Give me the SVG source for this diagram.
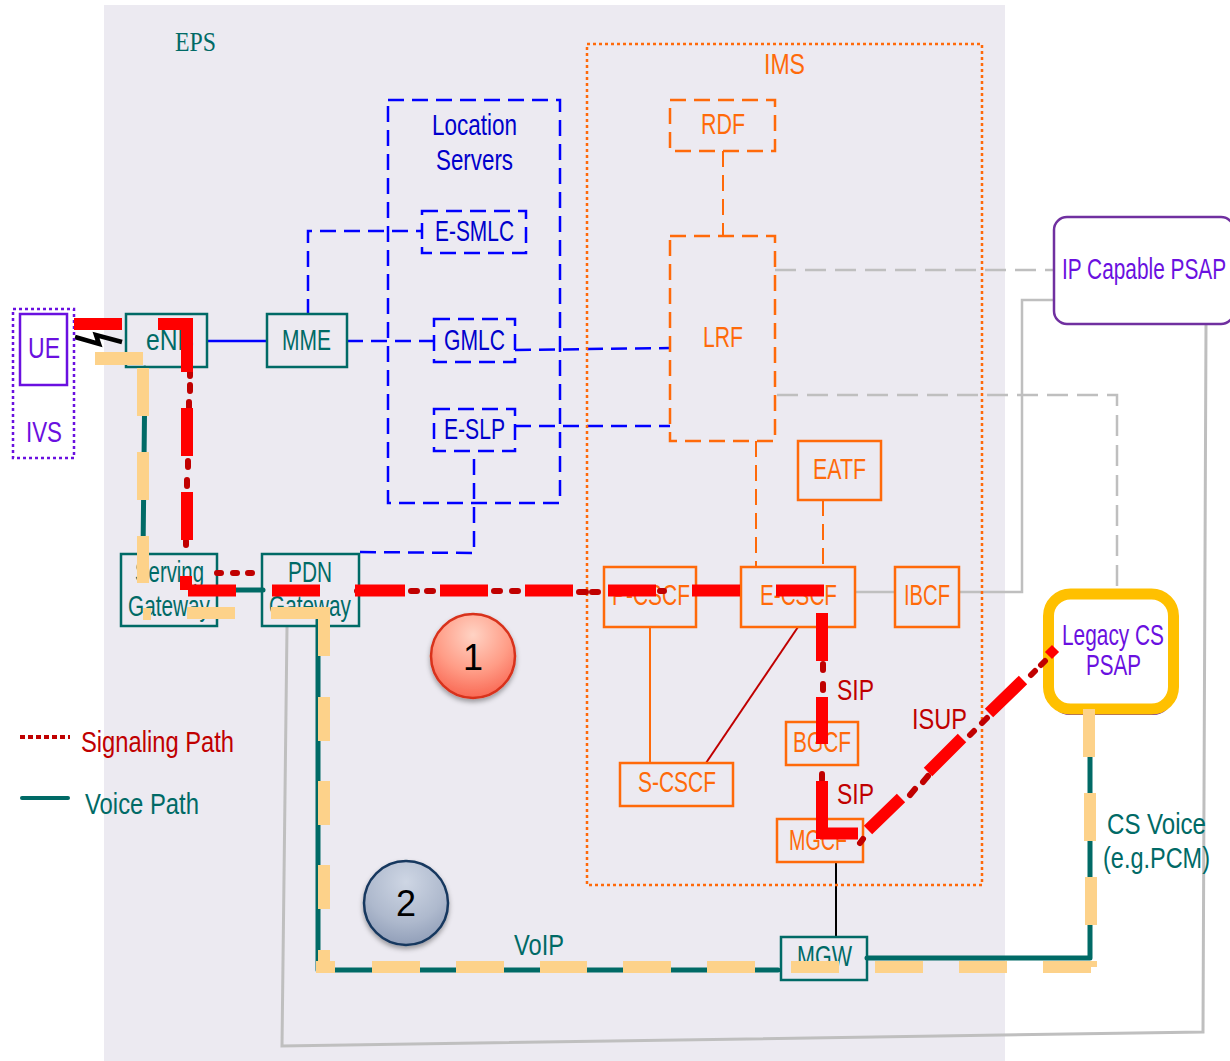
<svg xmlns="http://www.w3.org/2000/svg" width="1230" height="1061" viewBox="0 0 1230 1061">
<defs>
<radialGradient id="g1" cx="0.5" cy="0.25" r="0.8"><stop offset="0" stop-color="#ffd3c4"/><stop offset="0.55" stop-color="#ff9c86"/><stop offset="1" stop-color="#f8604c"/></radialGradient>
<radialGradient id="g2" cx="0.5" cy="0.25" r="0.8"><stop offset="0" stop-color="#ced6e4"/><stop offset="0.6" stop-color="#aeb9cd"/><stop offset="1" stop-color="#8c9ab5"/></radialGradient>
<filter id="sh" x="-20%" y="-20%" width="140%" height="150%"><feDropShadow dx="0" dy="3" stdDeviation="2.5" flood-color="#000" flood-opacity="0.35"/></filter>
</defs>
<style>
text{font-family:"Liberation Sans",Arial,sans-serif;font-size:29px;text-anchor:start}
.s{font-family:"Liberation Serif","Times New Roman",serif;font-size:27px}
.tt{fill:#006a66}.to{fill:#ff6a0a}.tb{fill:#0000cc}.tp{fill:#6a10e0}.tr{fill:#c00000}
.bt{fill:none;stroke:#006a66;stroke-width:2.5}
.bo{fill:none;stroke:#ff6a0a;stroke-width:2.5}
.bod{fill:none;stroke:#ff6a0a;stroke-width:2.5;stroke-dasharray:16 8}
.bb{fill:none;stroke:#0000ff;stroke-width:2.5;stroke-dasharray:16 8}
.lb{fill:none;stroke:#0000ff;stroke-width:2.5;stroke-dasharray:16 8}
.lo{fill:none;stroke:#ff6a0a;stroke-width:2;stroke-dasharray:16 8}
.gd{fill:none;stroke:#bfbfbf;stroke-width:2.5;stroke-dasharray:21 9}
.gs{fill:none;stroke:#bfbfbf;stroke-width:2.5}
.v{fill:none;stroke:#006a66;stroke-width:5;stroke-linecap:round;stroke-linejoin:round}
.r{fill:none;stroke:#ff0000;stroke-width:12}
.d{fill:none;stroke:#c00000;stroke-width:6;stroke-linecap:round}
.p{fill:#fdd28a;stroke:none}
</style>
<rect id="eps-bg" x="104" y="5" width="901" height="1056" fill="#eceaf1"/>
<text class="s tt" x="175" y="51" textLength="41" lengthAdjust="spacingAndGlyphs">EPS</text>
<g id="base-connectors">
<path class="gs" style="stroke-width:3" d="M287 627L282 1046L1203 1032L1206 325"/>
<path class="gd" d="M775 270H1054"/>
<path class="gs" d="M855 592H895M959 592H1022V300H1054"/>
<path class="gd" d="M777 395H1117V588"/>
<path class="lb" style="stroke-dasharray:none" d="M207 341H267"/>
<path class="lb" d="M308 315V231H422"/>
<path class="lb" d="M347 341H434"/>
<path class="lb" d="M515 350L670 348"/>
<path class="lb" d="M515 426H670"/>
<path class="lb" d="M360 552L474 553V451"/>
<path class="lo" d="M723 151V236"/>
<path class="lo" d="M756 441V567"/>
<path class="lo" d="M823 500V567"/>
<path fill="none" stroke="#ff6a0a" stroke-width="2" d="M650 627V763"/>
<path fill="none" stroke="#c00000" stroke-width="2" d="M798 627L706 763"/>
<path fill="none" stroke="#000" stroke-width="2" d="M836 862V937"/>
<path fill="none" stroke="#000" stroke-width="4.500" d="M75 337L99 344L96 335L122 342"/>
<path class="v" d="M145 368L143 554"/>
<path class="v" d="M217 590H263"/>
<path class="v" d="M318 620V970H778"/>
<path class="v" d="M867 958H1090V709"/>
</g>
<g id="ims"><rect x="587" y="44" width="395" height="841" fill="none" stroke="#ff6a0a" stroke-width="2.5" stroke-dasharray="3 3"/><text class="to" x="764" y="74" textLength="41" lengthAdjust="spacingAndGlyphs">IMS</text></g>
<g id="location-servers"><rect class="bb" x="388" y="100" width="172" height="403"/><text class="tb" x="432" y="135" textLength="85" lengthAdjust="spacingAndGlyphs">Location</text><text class="tb" x="436" y="170" textLength="77" lengthAdjust="spacingAndGlyphs">Servers</text></g>
<g id="ivs"><rect x="13" y="309" width="61" height="149" fill="none" stroke="#6a10e0" stroke-width="2.5" stroke-dasharray="3 3"/><text class="tp" x="26" y="442" textLength="36" lengthAdjust="spacingAndGlyphs">IVS</text></g>
<g id="ue"><rect x="20" y="314" width="47" height="71" fill="none" stroke="#6a10e0" stroke-width="2.5"/><text class="tp" x="28" y="358" textLength="32" lengthAdjust="spacingAndGlyphs">UE</text></g>
<g id="enb"><rect class="bt" x="126" y="314" width="81" height="53"/><text class="tt" x="146" y="350" textLength="48" lengthAdjust="spacingAndGlyphs">eNB</text></g>
<g id="mme"><rect class="bt" x="267" y="314" width="80" height="53"/><text class="tt" x="282" y="350" textLength="49" lengthAdjust="spacingAndGlyphs">MME</text></g>
<g id="sgw"><rect class="bt" x="121" y="554" width="96" height="72"/><text class="tt" x="135" y="582" textLength="69" lengthAdjust="spacingAndGlyphs">Serving</text><text class="tt" x="128" y="616" textLength="82" lengthAdjust="spacingAndGlyphs">Gateway</text></g>
<g id="pgw"><rect class="bt" x="262" y="554" width="97" height="72"/><text class="tt" x="288" y="582" textLength="44" lengthAdjust="spacingAndGlyphs">PDN</text><text class="tt" x="269" y="616" textLength="82" lengthAdjust="spacingAndGlyphs">Gateway</text></g>
<g id="e-smlc"><rect class="bb" x="422" y="211" width="104" height="42"/><text class="tb" x="435" y="241" textLength="79" lengthAdjust="spacingAndGlyphs">E-SMLC</text></g>
<g id="gmlc"><rect class="bb" x="434" y="319" width="81" height="43"/><text class="tb" x="444" y="350" textLength="61" lengthAdjust="spacingAndGlyphs">GMLC</text></g>
<g id="e-slp"><rect class="bb" x="434" y="409" width="81" height="42"/><text class="tb" x="444" y="439" textLength="61" lengthAdjust="spacingAndGlyphs">E-SLP</text></g>
<g id="rdf"><rect class="bod" x="670" y="100" width="105" height="51"/><text class="to" x="701" y="134" textLength="44" lengthAdjust="spacingAndGlyphs">RDF</text></g>
<g id="lrf"><rect class="bod" x="670" y="236" width="105" height="205"/><text class="to" x="703" y="347" textLength="40" lengthAdjust="spacingAndGlyphs">LRF</text></g>
<g id="eatf"><rect class="bo" x="798" y="441" width="83" height="59"/><text class="to" x="813" y="479" textLength="53" lengthAdjust="spacingAndGlyphs">EATF</text></g>
<g id="p-cscf"><rect class="bo" x="604" y="567" width="92" height="60"/><text class="to" x="612" y="605" textLength="78" lengthAdjust="spacingAndGlyphs">P-CSCF</text></g>
<g id="e-cscf"><rect class="bo" x="741" y="567" width="114" height="60"/><text class="to" x="760" y="605" textLength="77" lengthAdjust="spacingAndGlyphs">E-CSCF</text></g>
<g id="ibcf"><rect class="bo" x="895" y="567" width="64" height="60"/><text class="to" x="904" y="605" textLength="46" lengthAdjust="spacingAndGlyphs">IBCF</text></g>
<g id="s-cscf"><rect class="bo" x="620" y="763" width="113" height="43"/><text class="to" x="638" y="792" textLength="78" lengthAdjust="spacingAndGlyphs">S-CSCF</text></g>
<g id="bgcf"><rect class="bo" x="786" y="722" width="72" height="43"/><text class="to" x="793" y="752" textLength="58" lengthAdjust="spacingAndGlyphs">BGCF</text></g>
<g id="mgcf"><rect class="bo" x="777" y="819" width="86" height="43"/><text class="to" x="789" y="850" textLength="58" lengthAdjust="spacingAndGlyphs">MGCF</text></g>
<g id="mgw"><rect class="bt" x="781" y="937" width="86" height="43"/><text class="tt" x="797" y="966" textLength="55" lengthAdjust="spacingAndGlyphs">MGW</text></g>
<g id="ip-psap"><rect x="1054" y="217" width="180" height="107" rx="13" fill="#fff" stroke="#7030a0" stroke-width="2.5"/><text class="tp" transform="translate(1062 279) scale(0.719 1)">IP Capable PSAP</text></g>
<g id="legacy-psap"><rect x="1050" y="598" width="123" height="117" rx="20" fill="#7030a0"/><rect x="1048.500" y="594" width="125" height="115" rx="22" fill="#fff" stroke="#ffc000" stroke-width="11"/><text class="tp" x="1062" y="645" textLength="102" lengthAdjust="spacingAndGlyphs">Legacy CS</text><text class="tp" x="1086" y="675" textLength="55" lengthAdjust="spacingAndGlyphs">PSAP</text></g>
<g id="labels">
<text class="tr" x="837" y="700" textLength="37" lengthAdjust="spacingAndGlyphs">SIP</text>
<text class="tr" x="837" y="804" textLength="37" lengthAdjust="spacingAndGlyphs">SIP</text>
<text class="tr" x="912" y="729" textLength="55" lengthAdjust="spacingAndGlyphs">ISUP</text>
<text class="tt" x="514" y="955" textLength="50" lengthAdjust="spacingAndGlyphs">VoIP</text>
<text class="tt" x="1107" y="834" textLength="99" lengthAdjust="spacingAndGlyphs">CS Voice</text>
<text class="tt" transform="translate(1103 868) scale(0.81 1)">(e.g.PCM)</text>
</g>
<g id="overlay-connectors">
<g id="voice-overlay">
<rect class="p" x="95" y="352" width="48" height="13"/>
<rect class="p" x="137" y="368" width="12" height="48"/><rect class="p" x="137" y="452" width="12" height="48"/><rect class="p" x="137" y="536" width="12" height="47"/><rect class="p" x="143" y="608" width="8" height="12"/>
<rect class="p" x="187" y="607" width="48" height="12"/><rect class="p" x="271" y="607" width="59" height="12"/>
<rect class="p" x="318" y="612" width="12" height="44"/><rect class="p" x="318" y="697" width="12" height="44"/><rect class="p" x="318" y="781" width="12" height="44"/><rect class="p" x="318" y="865" width="12" height="44"/><rect class="p" x="318" y="950" width="12" height="22"/>
<rect class="p" x="316" y="961" width="19" height="12"/>
<rect class="p" x="372" y="961" width="48" height="12"/><rect class="p" x="456" y="961" width="48" height="12"/><rect class="p" x="540" y="961" width="47" height="12"/><rect class="p" x="623" y="961" width="48" height="12"/><rect class="p" x="707" y="961" width="48" height="12"/><rect class="p" x="791" y="961" width="48" height="12"/><rect class="p" x="875" y="961" width="48" height="12"/><rect class="p" x="959" y="961" width="48" height="12"/><rect class="p" x="1043" y="961" width="48" height="12"/><rect class="p" x="1090" y="961" width="7" height="6"/>
<rect class="p" x="1083" y="709" width="12" height="48"/><rect class="p" x="1084" y="793" width="12" height="48"/><rect class="p" x="1085" y="877" width="12" height="48"/>
</g>
<g id="signal-overlay">
<path class="d" d="M190 372V376M190 385V391M189 402V408M188 461V467M187 480V486M186 541V545"/>
<path class="d" d="M217 573H221M233 573H237M248 573H252"/>
<path class="d" d="M357 591H360M411 591H417M427 591H433M494 591H500M512 591H518M579 592H586M592 592H598M660 591H664"/>
<path class="d" d="M823 664V670M823 684V690M822 774V780"/>
<path class="d" d="M860 843L863 839M910 795L915 789M923 782L928 776M970 735L974 731M982 723L987 718M1031 675L1035 671M1041 665L1045 661"/>
<path class="r" d="M74 324H122M158 324H193M187 318V372M187 408V456M187 492V540"/>
<path class="r" d="M186 576V590M188 590.500H236M272 590.500H320M355 590.500H405M440 590.500H488M525 590.500H573M608 590.500H656M692 590.500H740M776 590.500H824"/>
<path class="r" d="M822 613V661M822 697V744M822 781V839M820 833.500H858"/>
<path class="r" d="M868 830L901 798M928 772L962 738M989 713L1023 680"/>
<rect x="1047" y="647" width="10" height="10" fill="#ff0000" transform="rotate(45 1052 652)"/>
</g>
</g>
<g id="badge-1"><circle cx="473" cy="656" r="42" fill="url(#g1)" stroke="#d8301a" stroke-width="2.500" filter="url(#sh)"/><text x="473" y="670" style="text-anchor:middle;font-size:36px" fill="#000">1</text></g>
<g id="badge-2"><circle cx="406" cy="903" r="42" fill="url(#g2)" stroke="#17375e" stroke-width="2.500" filter="url(#sh)"/><text x="406" y="916" style="text-anchor:middle;font-size:36px" fill="#000">2</text></g>
<g id="legend">
<path d="M20 737H70" fill="none" stroke="#c00000" stroke-width="4" stroke-dasharray="5 3"/>
<text class="tr" x="81" y="752" textLength="153" lengthAdjust="spacingAndGlyphs">Signaling Path</text>
<path d="M22 798H68" fill="none" stroke="#006a66" stroke-width="4" stroke-linecap="round"/>
<text class="tt" x="85" y="814" textLength="114" lengthAdjust="spacingAndGlyphs">Voice Path</text>
</g>
</svg>
